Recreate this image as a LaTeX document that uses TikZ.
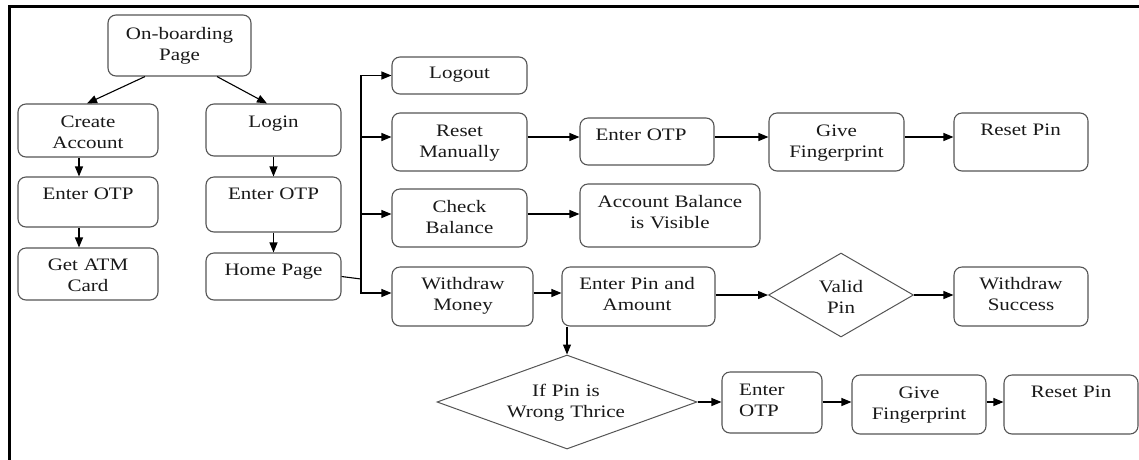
\documentclass[tikz,border=0pt]{standalone}
\usepackage{fontspec}
\setmainfont{Liberation Serif}[FakeStretch=1.2]
\usetikzlibrary{arrows.meta,shapes.geometric,calc}
\definecolor{boxgray}{RGB}{85,85,85}
\begin{document}
\begin{tikzpicture}[x=1pt,y=-1pt,
  box/.style={draw=boxgray, line width=1.1pt, rounded corners=8pt, inner sep=0pt, fill=white},
  dia/.style={draw=boxgray, line width=1pt, diamond, inner sep=0pt, fill=white},
  txt/.style={font=\fontsize{17.5pt}{21pt}\selectfont, text=black!90, inner sep=0pt, text width=220pt, align=center, anchor=base},
  txtl/.style={font=\fontsize{17.5pt}{21pt}\selectfont, text=black!90, inner sep=0pt, text width=100pt, align=left, anchor=base west},
  conn/.style={draw=black, line width=1.1pt},
  arr/.style={conn, -{Triangle[length=10pt,width=8pt]}}]
\useasboundingbox (0,0) rectangle (1139,459);
% frame
\draw[line width=3pt] (9,461) -- (9,6) -- (1141,6);
% boxes
\node[box, minimum width=143pt, minimum height=61pt] (onb) at (179.5,45.5) {};
\node[box, minimum width=140pt, minimum height=53pt] (cre) at (88,130.5) {};
\node[box, minimum width=135pt, minimum height=52pt] (login) at (273.5,130) {};
\node[box, minimum width=140pt, minimum height=50pt] (otp1) at (88,202) {};
\node[box, minimum width=135pt, minimum height=55pt] (otp2) at (273.5,204.5) {};
\node[box, minimum width=140pt, minimum height=52pt] (atm) at (88,274) {};
\node[box, minimum width=135pt, minimum height=47pt] (home) at (273.5,276.5) {};
\node[box, minimum width=135pt, minimum height=37pt] (logout) at (459.5,75.5) {};
\node[box, minimum width=135pt, minimum height=58pt] (reset) at (459.5,142) {};
\node[box, minimum width=134pt, minimum height=47pt] (otp3) at (647,141.5) {};
\node[box, minimum width=135pt, minimum height=58pt] (give1) at (836.5,142) {};
\node[box, minimum width=134pt, minimum height=58pt] (rpin1) at (1021,142) {};
\node[box, minimum width=135pt, minimum height=58pt] (check) at (459.5,218) {};
\node[box, minimum width=180pt, minimum height=63pt] (accbal) at (670,215.5) {};
\node[box, minimum width=141pt, minimum height=59pt] (withdraw) at (462.5,296.5) {};
\node[box, minimum width=153pt, minimum height=59pt] (enterpin) at (638.5,296.5) {};
\node[dia, minimum width=145pt, minimum height=84pt] (valid) at (841,295) {};
\node[box, minimum width=134pt, minimum height=59pt] (success) at (1021,296.5) {};
\node[dia, minimum width=260pt, minimum height=94pt] (ifpin) at (567,402) {};
\node[box, minimum width=100pt, minimum height=61pt] (otp4) at (772,402.5) {};
\node[box, minimum width=134pt, minimum height=59pt] (give2) at (919,404.5) {};
\node[box, minimum width=134pt, minimum height=59pt] (rpin2) at (1071,404.5) {};
% texts
\node[txt] (tonb) at (179.5,39) {On-boarding\\Page};
\node[txt] (tcre) at (88,127) {Create\\Account};
\node[txt] (tlogin) at (273.5,127) {Login};
\node[txt] (totp1) at (88,199) {Enter OTP};
\node[txt] (totp2) at (273.5,199) {Enter OTP};
\node[txt] (tatm) at (88,270) {Get ATM\\Card};
\node[txt] (thome) at (273.5,275) {Home Page};
\node[txt] (tlogout) at (459.5,78) {Logout};
\node[txt] (treset) at (459.5,136) {Reset\\Manually};
\node[txt] (totp3) at (641,140) {Enter OTP};
\node[txt] (tgive1) at (836.5,136) {Give\\Fingerprint};
\node[txt] (trpin1) at (1020.5,135) {Reset Pin};
\node[txt] (tcheck) at (459.5,212) {Check\\Balance};
\node[txt] (taccbal) at (670,207) {Account Balance\\is Visible};
\node[txt] (tvalid) at (841,292) {Valid\\Pin};
\node[txt] (tsuccess) at (1021,289) {Withdraw\\Success};
\node[txt] (twithdraw) at (463,289) {Withdraw\\Money};
\node[txt] (tenterpin) at (637,289) {Enter Pin and\\Amount};
\node[txt] (tifpin) at (566,396) {If Pin is\\Wrong Thrice};
\node[txtl] (totp4) at (739,395) {Enter\\OTP};
\node[txt] (tgive2) at (919,398) {Give\\Fingerprint};
\node[txt] (trpin2) at (1071,397) {Reset Pin};
% connectors
\draw[arr] ([xshift=-34.5pt]onb.south) -- ([xshift=-1pt]cre.north);
\draw[arr] ([xshift=37.5pt]onb.south) -- ([xshift=-6.5pt]login.north);
\draw[arr] ([xshift=-9pt]cre.south) -- ([xshift=-9pt]otp1.north);
\draw[arr] ([xshift=-9pt]otp1.south) -- ([xshift=-9pt]atm.north);
\draw[arr] (login.south) -- (otp2.north);
\draw[arr] (otp2.south) -- (home.north);
\coordinate (j) at (361,279);
\draw[conn] (home.east) -- (j);
\draw[arr] (j) |- (logout.west);
\draw[arr] (j) |- ([yshift=5pt]reset.west);
\draw[arr] (j) |- ([yshift=4pt]check.west);
\draw[arr] (j) |- ([yshift=3.5pt]withdraw.west);
\draw[arr] ([yshift=5pt]reset.east) -- ([yshift=4.5pt]otp3.west);
\draw[arr] ([yshift=4.5pt]otp3.east) -- ([yshift=5pt]give1.west);
\draw[arr] ([yshift=5pt]give1.east) -- ([yshift=5pt]rpin1.west);
\draw[arr] ([yshift=4pt]check.east) -- ([yshift=1.5pt]accbal.west);
\draw[arr] ([yshift=3.5pt]withdraw.east) -- ([yshift=3.5pt]enterpin.west);
\draw[arr] (enterpin.east |- valid.west) -- (valid.west);
\draw[arr] (valid.east) -- (success.west |- valid.east);
\draw[arr] (ifpin.north |- enterpin.south) -- (ifpin.north);
\draw[arr] (ifpin.east) -- (otp4.west |- ifpin.east);
\draw[arr] (otp4.east |- ifpin.east) -- (give2.west |- ifpin.east);
\draw[arr] (give2.east |- ifpin.east) -- (rpin2.west |- ifpin.east);
\end{tikzpicture}
\end{document}
